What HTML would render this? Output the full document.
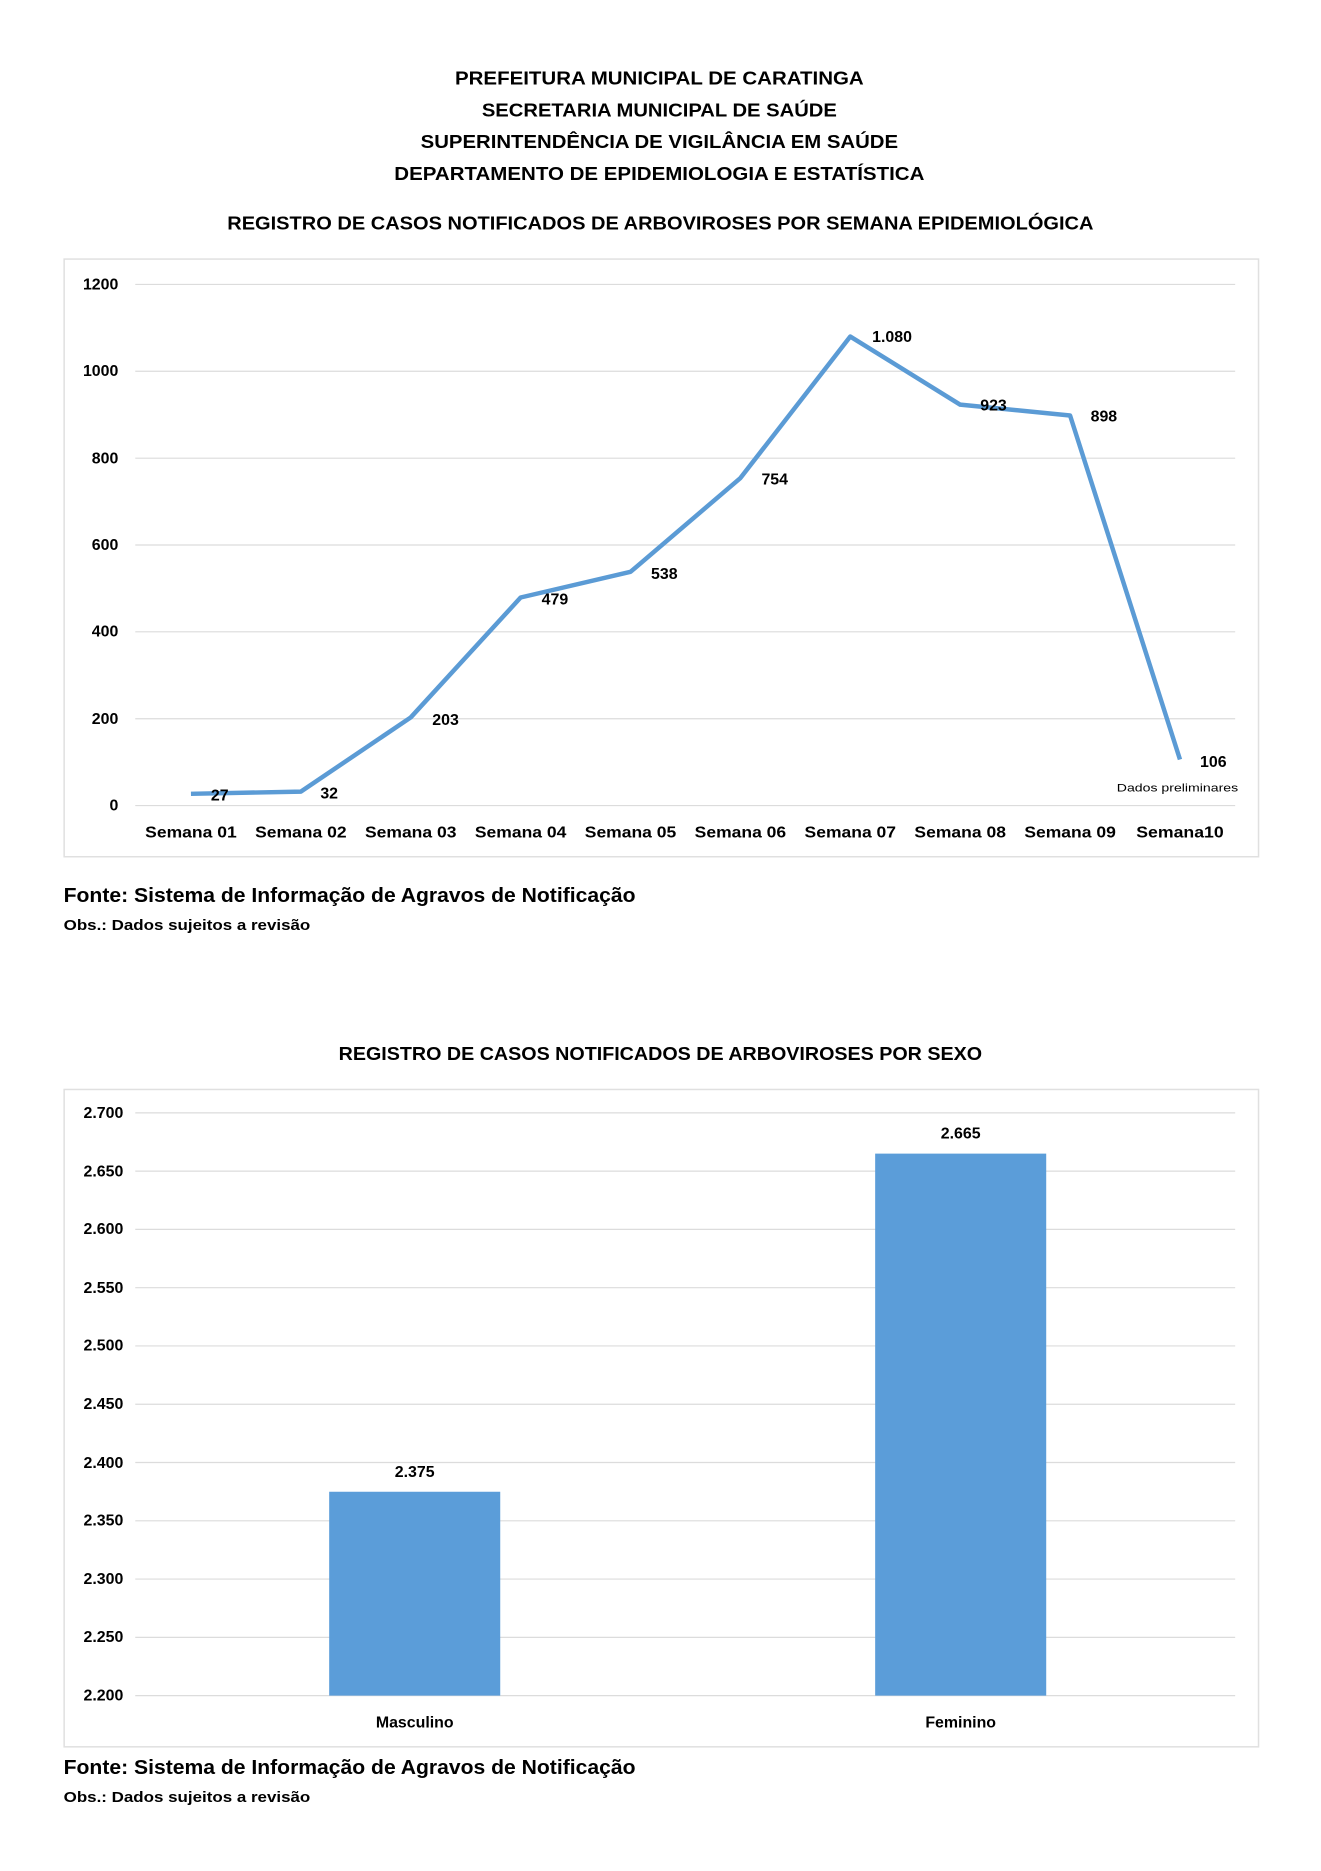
<!DOCTYPE html>
<html><head><meta charset="utf-8"><style>html,body{margin:0;padding:0;background:#fff}svg{display:block}</style></head>
<body>
<svg width="1321" height="1871" viewBox="0 0 1321 1871" xmlns="http://www.w3.org/2000/svg" font-family="'Liberation Sans', sans-serif" font-weight="bold" fill="#000">
<rect width="1321" height="1871" fill="#fff"/>
<g transform="scale(0.9945)">
<g font-size="19" text-anchor="middle">
<text x="663" y="85" textLength="411" lengthAdjust="spacingAndGlyphs">PREFEITURA MUNICIPAL DE CARATINGA</text>
<text x="663" y="117" textLength="357" lengthAdjust="spacingAndGlyphs">SECRETARIA MUNICIPAL DE SAÚDE</text>
<text x="663" y="149" textLength="480" lengthAdjust="spacingAndGlyphs">SUPERINTENDÊNCIA DE VIGILÂNCIA EM SAÚDE</text>
<text x="663" y="181" textLength="533" lengthAdjust="spacingAndGlyphs">DEPARTAMENTO DE EPIDEMIOLOGIA E ESTATÍSTICA</text>
<text x="664" y="231" textLength="871" lengthAdjust="spacingAndGlyphs">REGISTRO DE CASOS NOTIFICADOS DE ARBOVIROSES POR SEMANA EPIDEMIOLÓGICA</text>
<text x="664" y="1066" textLength="647" lengthAdjust="spacingAndGlyphs">REGISTRO DE CASOS NOTIFICADOS DE ARBOVIROSES POR SEXO</text>
</g>
<rect x="64.5" y="260.5" width="1201" height="601" fill="#fff" stroke="#e0e0e0" stroke-width="1.5"/>
<g stroke="#dcdcdc" stroke-width="1.2">
<line x1="136" x2="1242" y1="286" y2="286"/><line x1="136" x2="1242" y1="373.3" y2="373.3"/><line x1="136" x2="1242" y1="460.7" y2="460.7"/><line x1="136" x2="1242" y1="548" y2="548"/><line x1="136" x2="1242" y1="635.3" y2="635.3"/><line x1="136" x2="1242" y1="722.7" y2="722.7"/><line x1="136" x2="1242" y1="810" y2="810"/>
</g>
<g font-size="16" text-anchor="end">
<text x="119" y="291">1200</text><text x="119" y="378">1000</text><text x="119" y="466">800</text><text x="119" y="553">600</text><text x="119" y="640">400</text><text x="119" y="728">200</text><text x="119" y="815">0</text>
</g>
<polyline fill="none" stroke="#5b9bd5" stroke-width="4.5" stroke-linejoin="round" points="192,798.2 302.5,796 413,721.4 523.5,600.8 634,575 744.5,480.7 855,338.4 965.5,406.9 1076,417.8 1186.5,763.7"/>
<g font-size="16" text-anchor="middle">
<text x="192" y="842" textLength="92" lengthAdjust="spacingAndGlyphs">Semana 01</text>
<text x="302.5" y="842" textLength="92" lengthAdjust="spacingAndGlyphs">Semana 02</text>
<text x="413" y="842" textLength="92" lengthAdjust="spacingAndGlyphs">Semana 03</text>
<text x="523.5" y="842" textLength="92" lengthAdjust="spacingAndGlyphs">Semana 04</text>
<text x="634" y="842" textLength="92" lengthAdjust="spacingAndGlyphs">Semana 05</text>
<text x="744.5" y="842" textLength="92" lengthAdjust="spacingAndGlyphs">Semana 06</text>
<text x="855" y="842" textLength="92" lengthAdjust="spacingAndGlyphs">Semana 07</text>
<text x="965.5" y="842" textLength="92" lengthAdjust="spacingAndGlyphs">Semana 08</text>
<text x="1076" y="842" textLength="92" lengthAdjust="spacingAndGlyphs">Semana 09</text>
<text x="1186.5" y="842" textLength="88" lengthAdjust="spacingAndGlyphs">Semana10</text>
<text x="221" y="805">27</text><text x="331" y="803">32</text><text x="448" y="729">203</text><text x="558" y="608">479</text><text x="668" y="582">538</text><text x="779" y="487">754</text><text x="897" y="344">1.080</text><text x="999" y="413">923</text><text x="1110" y="424">898</text><text x="1220" y="771">106</text>
</g>
<text x="1184" y="796" font-size="11.5" font-weight="normal" text-anchor="middle" textLength="122" lengthAdjust="spacingAndGlyphs">Dados preliminares</text>
<text x="64" y="907" font-size="20" textLength="575" lengthAdjust="spacingAndGlyphs">Fonte: Sistema de Informação de Agravos de Notificação</text>
<text x="64" y="935" font-size="15" textLength="248" lengthAdjust="spacingAndGlyphs">Obs.: Dados sujeitos a revisão</text>
<rect x="64.5" y="1095.5" width="1201" height="661" fill="#fff" stroke="#e0e0e0" stroke-width="1.5"/>
<g stroke="#dcdcdc" stroke-width="1.2">
<line x1="136" x2="1242" y1="1119" y2="1119"/><line x1="136" x2="1242" y1="1177.6" y2="1177.6"/><line x1="136" x2="1242" y1="1236.2" y2="1236.2"/><line x1="136" x2="1242" y1="1294.8" y2="1294.8"/><line x1="136" x2="1242" y1="1353.4" y2="1353.4"/><line x1="136" x2="1242" y1="1412" y2="1412"/><line x1="136" x2="1242" y1="1470.6" y2="1470.6"/><line x1="136" x2="1242" y1="1529.2" y2="1529.2"/><line x1="136" x2="1242" y1="1587.8" y2="1587.8"/><line x1="136" x2="1242" y1="1646.4" y2="1646.4"/><line x1="136" x2="1242" y1="1705" y2="1705"/>
</g>
<g font-size="16" text-anchor="end">
<text x="124" y="1124">2.700</text><text x="124" y="1183">2.650</text><text x="124" y="1241">2.600</text><text x="124" y="1300">2.550</text><text x="124" y="1358">2.500</text><text x="124" y="1417">2.450</text><text x="124" y="1476">2.400</text><text x="124" y="1534">2.350</text><text x="124" y="1593">2.300</text><text x="124" y="1651">2.250</text><text x="124" y="1710">2.200</text>
</g>
<rect x="331" y="1500" width="172" height="205" fill="#5b9dd9"/>
<rect x="880" y="1160" width="172" height="545" fill="#5b9dd9"/>
<g font-size="16" text-anchor="middle">
<text x="417" y="1485">2.375</text><text x="966" y="1145">2.665</text>
<text x="417" y="1737">Masculino</text><text x="966" y="1737">Feminino</text>
</g>
<text x="64" y="1784" font-size="20" textLength="575" lengthAdjust="spacingAndGlyphs">Fonte: Sistema de Informação de Agravos de Notificação</text>
<text x="64" y="1812" font-size="15" textLength="248" lengthAdjust="spacingAndGlyphs">Obs.: Dados sujeitos a revisão</text>
</g>
</svg>
</body></html>
